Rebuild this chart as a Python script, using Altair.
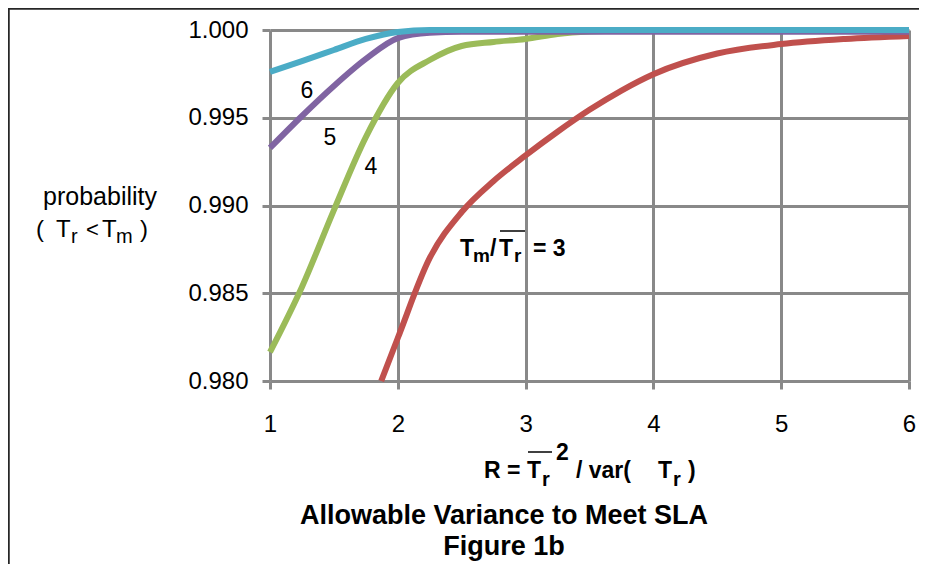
import altair as alt
import pandas as pd

# ---- data (x = R, y = probability) ----
r3_x = [1.87, 2.0, 2.25, 2.5, 2.75, 3.0, 3.25, 3.5, 3.75, 4.0, 4.5, 5.0, 5.5, 6.0]
r3_y = [0.98000, 0.98245, 0.98701, 0.98963, 0.99140, 0.99285, 0.99420, 0.99545,
        0.99655, 0.99748, 0.99866, 0.99920, 0.99949, 0.99966]
r4_x = [1.0, 1.25, 1.5, 1.75, 2.0, 2.25, 2.5, 2.75, 3.0, 3.25, 3.5, 4.0, 6.0]
r4_y = [0.98165, 0.98536, 0.98974, 0.99390, 0.99698, 0.99829, 0.99909, 0.99932,
        0.99949, 0.99977, 0.99991, 1.0, 1.0]
r5_x = [1.0, 1.25, 1.5, 1.75, 2.0, 2.25, 2.5, 6.0]
r5_y = [0.99328, 0.99510, 0.99681, 0.99835, 0.99954, 0.99985, 0.9999, 0.9999]
r6_x = [1.0, 1.25, 1.5, 1.75, 2.0, 2.25, 6.0]
r6_y = [0.99761, 0.99823, 0.99886, 0.99949, 0.99989, 1.0, 1.0]

series_names = ["3", "4", "5", "6"]
series_colors = ["#c0504d", "#9bbb59", "#8064a2", "#4bacc6"]
x_ticks = [1, 2, 3, 4, 5, 6]
y_ticks = [0.980, 0.985, 0.990, 0.995, 1.000]

rows = []
for name, xs, ys in zip(series_names, [r3_x, r4_x, r5_x, r6_x], [r3_y, r4_y, r5_y, r6_y]):
    for i, (a, b) in enumerate(zip(xs, ys)):
        rows.append({"series": name, "R": a, "p": b, "i": i})
df = pd.DataFrame(rows)

FONT = "Liberation Sans"
GRID = "#898989"
OX, OY = 270, 30  # plot origin in page pixels

lines = alt.Chart(df).mark_line(strokeWidth=6, interpolate="monotone").encode(
    x=alt.X("R:Q", scale=alt.Scale(domain=[1, 6], nice=False, zero=False),
            axis=alt.Axis(values=x_ticks, format="d", title=None, grid=True,
                          gridColor=GRID, gridWidth=3, gridOpacity=1,
                          tickColor=GRID, tickWidth=3, tickSize=8, domain=False,
                          labelFont=FONT, labelFontSize=24, labelColor="black",
                          labelPadding=23, labelFlush=False)),
    y=alt.Y("p:Q", scale=alt.Scale(domain=[0.98, 1.0], nice=False, zero=False),
            axis=alt.Axis(values=y_ticks, format=".3f", title=None, grid=True,
                          gridColor=GRID, gridWidth=3, gridOpacity=1,
                          tickColor=GRID, tickWidth=3, tickSize=8, domain=False,
                          labelFont=FONT, labelFontSize=24, labelColor="black",
                          labelPadding=14)),
    color=alt.Color("series:N", scale=alt.Scale(domain=series_names, range=series_colors),
                    legend=None),
    order="i:Q",
)


def txt(s, px, py, size=22, bold=False, align="left"):
    return alt.Chart(pd.DataFrame({"t": [s]})).mark_text(
        font=FONT, fontSize=size, fontWeight="bold" if bold else "normal",
        align=align, baseline="alphabetic", color="black"
    ).encode(x=alt.value(px - OX), y=alt.value(py - OY), text="t:N")


def hline(x1, x2, py, w=1.5, color="black"):
    return alt.Chart(pd.DataFrame({"a": [0]})).mark_rule(color=color, strokeWidth=w).encode(
        x=alt.value(x1 - OX), x2=alt.value(x2 - OX), y=alt.value(py - OY))


def vline(px, y1, y2, w=1.5, color="black"):
    return alt.Chart(pd.DataFrame({"a": [0]})).mark_rule(color=color, strokeWidth=w).encode(
        x=alt.value(px - OX), y=alt.value(y1 - OY), y2=alt.value(y2 - OY))


layers = [lines]
# curve labels
layers += [txt("6", 307, 98, 23, align="center"),
           txt("5", 330, 145, 23, align="center"),
           txt("4", 371, 174, 23, align="center")]
# Tm / Tr = 3
layers += [txt("T", 460, 256, 23, True), txt("m", 473, 262, 19, True),
           txt("/", 490, 256, 23, True), txt("T", 499, 256, 23, True),
           txt("r", 514, 262, 19, True), txt("= 3", 533, 256, 23, True),
           hline(500, 525, 231)]
# y axis title
layers += [txt("probability", 100, 205, 25, align="center"),
           txt("(", 36, 237, 24), txt("T", 56, 237, 24), txt("r", 71, 243, 20),
           txt("<", 86, 237, 22), txt("T", 102, 237, 24), txt("m", 116, 243, 20),
           txt(")", 140, 237, 24)]
# x axis title
layers += [txt("R =", 484, 478, 23, True), txt("T", 527, 478, 23, True),
           txt("r", 542, 486, 20, True), txt("2", 556, 460, 23, True),
           hline(528, 552, 452),
           txt("/ var(", 576, 478, 23, True), txt("T", 658, 478, 23, True),
           txt("r", 673, 486, 20, True), txt(")", 688, 478, 23, True)]
# bottom title
layers += [txt("Allowable Variance to Meet SLA", 504, 524, 27, True, align="center"),
           txt("Figure 1b", 504, 555, 27, True, align="center")]
# outer border (top and left)
layers += [hline(8, 928, 8.5, 2.5, "#262626"), vline(8.5, 8, 575, 2.5, "#262626")]

chart = alt.layer(*layers).properties(
    width=639, height=351,
    padding={"left": 262, "top": 22, "right": 10, "bottom": 183},
    autosize=alt.AutoSizeParams(type="none"),
).configure_view(stroke=None)

chart.save("out.html", embed_options={"renderer": "svg", "actions": False})
